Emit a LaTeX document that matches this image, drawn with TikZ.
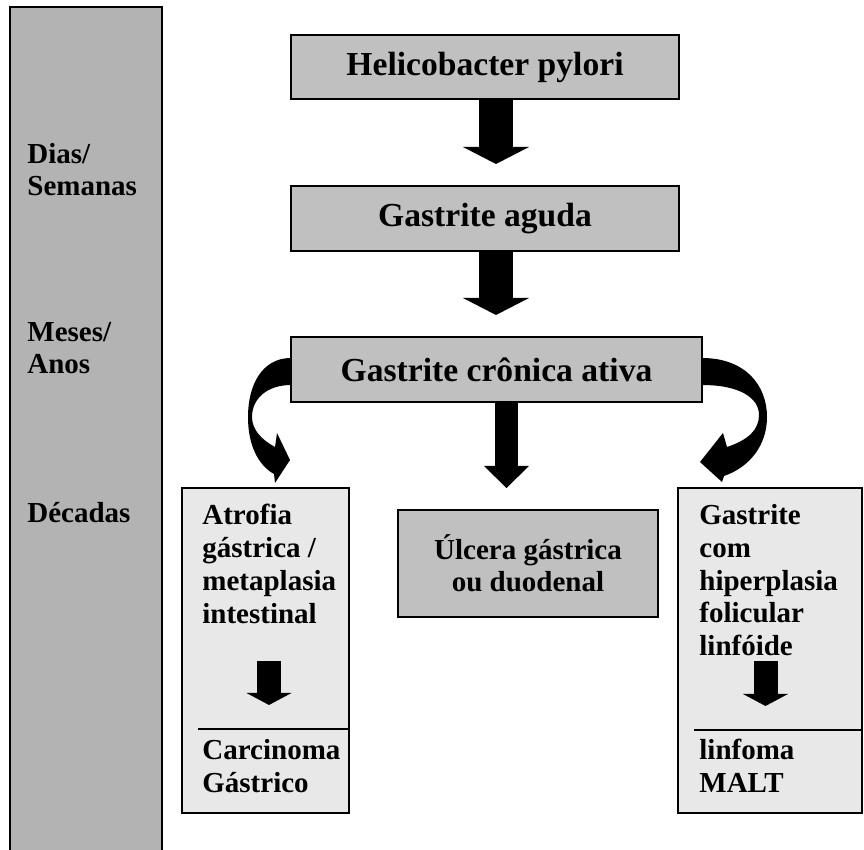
\documentclass[tikz,border=0pt]{standalone}
\usepackage{fontspec}
\setmainfont{Liberation Serif}
\usetikzlibrary{arrows.meta}
\definecolor{stagegray}{RGB}{192,192,192}
\definecolor{timegray}{RGB}{179,179,179}
\definecolor{outcomegray}{RGB}{232,232,232}

\begin{document}
\begin{tikzpicture}[x=0.5pt, y=-0.5pt,
    stage/.style={draw, line width=1pt, fill=stagegray, inner sep=0pt,
      font=\fontsize{16.8}{19}\selectfont\bfseries},
    outcome/.style={draw, line width=1pt, fill=outcomegray, inner sep=0pt},
    timetext/.style={anchor=north west, inner sep=0pt, align=left,
      font=\fontsize{14.5}{16}\selectfont\bfseries},
    sidetext/.style={anchor=north west, inner sep=0pt, align=left,
      font=\fontsize{14.5}{16.4}\selectfont\bfseries},
    bigarrow/.style={line width=17pt, -{Triangle[width=33pt, length=8.5pt, line width=0pt]}, shorten >=10.5pt},
    midarrow/.style={line width=11.5pt, -{Triangle[width=22.5pt, length=11pt, line width=0pt]}, shorten >=10.5pt},
    smallarrow/.style={line width=12pt, -{Triangle[width=22.5pt, length=6pt, line width=0pt]}}]
  \useasboundingbox (0,0) rectangle (864,850);
  % bande du temps
  \node[draw, line width=1pt, fill=timegray, inner sep=0pt,
    minimum width=76pt, minimum height=424pt] (time) at (86,431) {};
  \node[timetext] (dias) at (27,143) {Dias/\\Semanas};
  \node[timetext] (meses) at (27,322) {Meses/\\Anos};
  \node[timetext] (decadas) at (27,502) {Décadas};
  % etapas
  \node[stage, minimum width=194pt, minimum height=32pt] (hp) at (485,67) {Helicobacter pylori};
  \node[stage, minimum width=194pt, minimum height=32.5pt] (ga) at (485,218.5) {Gastrite aguda};
  \node[stage, minimum width=205.5pt, minimum height=32.5pt] (cga) at (496.5,369.5) {Gastrite crônica ativa};
  \node[stage, font=\fontsize{14.5}{16}\selectfont\bfseries, align=center,
    minimum width=130pt, minimum height=53.5pt] (ulc) at (528,563.5) {Úlcera gástrica\\ou duodenal};
  % desfechos
  \node[outcome, minimum width=83.5pt, minimum height=162.5pt] (atrbox) at (265.5,650.5) {};
  \node[outcome, minimum width=92pt, minimum height=162.5pt] (malbox) at (770,650.5) {};
  \node[sidetext] (atr) at (202,504) {Atrofia\\gástrica /\\metaplasia\\intestinal};
  \node[sidetext] (carc) at (202,739) {Carcinoma\\Gástrico};
  \node[sidetext] (hip) at (699,504) {Gastrite\\com\\hiperplasia\\folicular\\linfóide};
  \node[sidetext] (malt) at (699,739) {linfoma\\MALT};
  \draw[line width=0.6pt] (198,729) -- (349,729);
  \draw[line width=0.6pt] (694,730) -- (862,730);
  % setas
  \draw[bigarrow] ([xshift=5.5pt]hp.south) -- ([xshift=5.5pt]hp.south |- ga.north);
  \draw[bigarrow] ([xshift=5.5pt]ga.south) -- ([xshift=5.5pt]ga.south |- cga.north);
  \draw[midarrow] ([xshift=5pt]cga.south) -- ([xshift=5pt]cga.south |- ulc.north);
  \coordinate (atrA) at (269,661);
  \coordinate (atrB) at (269,705);
  \coordinate (hipA) at (765.5,661);
  \coordinate (hipB) at (765.5,706);
  \draw[smallarrow] (atrA) -- (atrB);
  \draw[smallarrow] (hipA) -- (hipB);
  % setas curvas
  \fill (291,358) .. controls (262,358) and (248,385) .. (248,417)
    .. controls (248,445) and (258,465) .. (274,474)
    -- (275,483) -- (290,460) -- (277,433) -- (275,447)
    .. controls (262,440) and (252,430) .. (252,417)
    .. controls (252,398) and (268,385) .. (291,385) -- cycle;
  \fill (702,358) .. controls (745,358) and (767,385) .. (767,417)
    .. controls (767,445) and (750,467) .. (724,476)
    -- (722,482) -- (700,462) -- (723,433) -- (727,447)
    .. controls (748,440) and (759,430) .. (759,415)
    .. controls (759,398) and (740,385) .. (702,385) -- cycle;
\end{tikzpicture}
\end{document}
